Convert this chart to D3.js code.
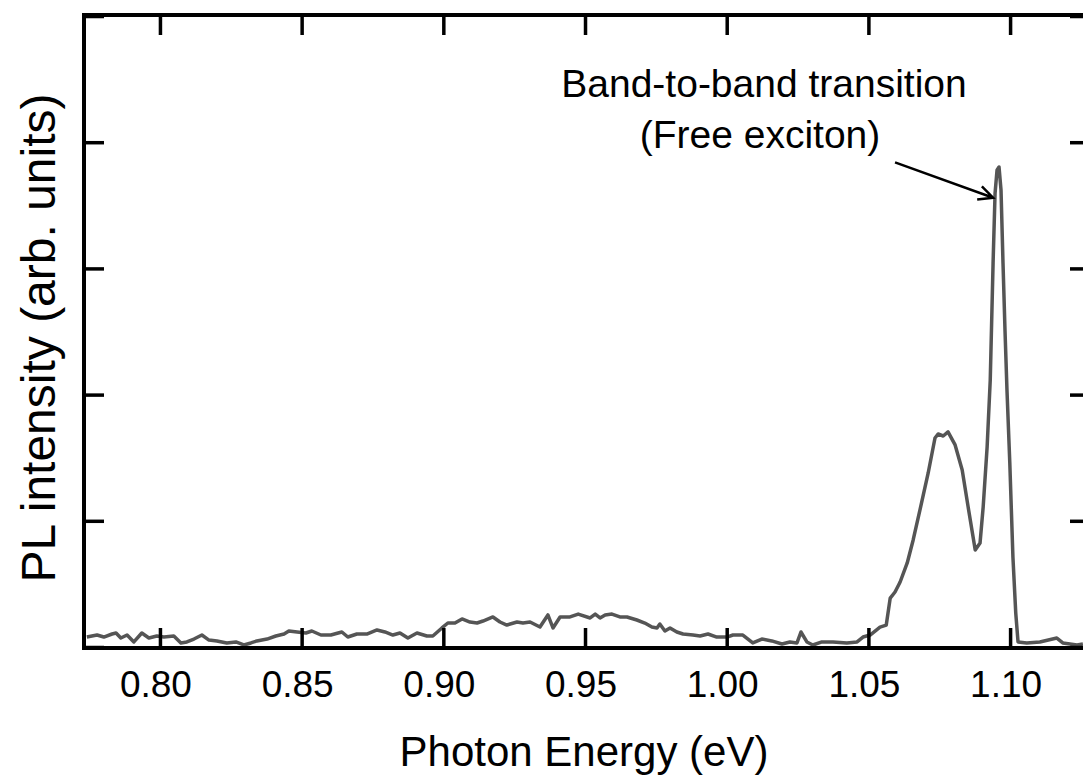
<!DOCTYPE html>
<html>
<head>
<meta charset="utf-8">
<script src="https://cdn.jsdelivr.net/npm/d3@7"></script>
<style>
  html, body { margin: 0; padding: 0; background: white; }
  svg { display: block; font-family: 'Liberation Sans', Arial, sans-serif; }
</style>
</head>
<body>
<div id="chart"></div>
<script>
/* global d3 */

// photon energy (eV)
var energy = [
  0.7742, 0.7778, 0.7802, 0.7831, 0.7845, 0.7862, 0.7884, 0.7908, 0.7936, 0.7961,
  0.7989, 0.8014, 0.8049, 0.8074, 0.8095, 0.8120, 0.8148, 0.8173, 0.8201, 0.8236,
  0.8268, 0.8296, 0.8321, 0.8342, 0.8378, 0.8409, 0.8438, 0.8455, 0.8484, 0.8515,
  0.8536, 0.8568, 0.8603, 0.8642, 0.8663, 0.8695, 0.8730, 0.8766, 0.8794, 0.8822,
  0.8847, 0.8875, 0.8907, 0.8942, 0.8963, 0.8995, 0.9016, 0.9041, 0.9066, 0.9094,
  0.9119, 0.9140, 0.9175, 0.9200, 0.9224, 0.9260, 0.9281, 0.9306, 0.9341, 0.9369,
  0.9387, 0.9412, 0.9447, 0.9476, 0.9518, 0.9536, 0.9553, 0.9571, 0.9595, 0.9623,
  0.9648, 0.9683, 0.9711, 0.9736, 0.9754, 0.9764, 0.9782, 0.9800, 0.9824, 0.9846,
  0.9881, 0.9906, 0.9934, 0.9965, 1.0001, 1.0022, 1.0057, 1.0092, 1.0124, 1.0159,
  1.0195, 1.0223, 1.0248, 1.0262, 1.0283, 1.0304, 1.0336, 1.0375, 1.0424, 1.0460,
  1.0481, 1.0506, 1.0541, 1.0563, 1.0577, 1.0594, 1.0612, 1.0637, 1.0658, 1.0682,
  1.0711, 1.0735, 1.0746, 1.0764, 1.0781, 1.0806, 1.0831, 1.0852, 1.0877, 1.0894,
  1.0905, 1.0919, 1.0930, 1.0940, 1.0947, 1.0954, 1.0961, 1.0968, 1.0975, 1.0982,
  1.0989, 1.0999, 1.1010, 1.1020, 1.1028, 1.1059, 1.1105, 1.1165, 1.1186, 1.1236,
  1.1257
];

// PL intensity (arb. units)
var intensity = [
  0.079, 0.095, 0.079, 0.103, 0.111, 0.071, 0.095, 0.040, 0.111, 0.071,
  0.087, 0.079, 0.087, 0.032, 0.040, 0.063, 0.095, 0.055, 0.048, 0.032,
  0.040, 0.016, 0.032, 0.048, 0.063, 0.087, 0.103, 0.127, 0.119, 0.111,
  0.127, 0.095, 0.095, 0.119, 0.079, 0.103, 0.103, 0.135, 0.119, 0.095,
  0.111, 0.071, 0.111, 0.087, 0.087, 0.151, 0.190, 0.190, 0.222, 0.198,
  0.190, 0.206, 0.238, 0.198, 0.174, 0.198, 0.190, 0.198, 0.158, 0.254,
  0.151, 0.238, 0.238, 0.261, 0.230, 0.261, 0.230, 0.254, 0.261, 0.238,
  0.238, 0.214, 0.190, 0.158, 0.151, 0.182, 0.127, 0.151, 0.119, 0.103,
  0.095, 0.087, 0.103, 0.079, 0.079, 0.095, 0.095, 0.032, 0.063, 0.048,
  0.024, 0.040, 0.032, 0.119, 0.040, 0.016, 0.040, 0.040, 0.032, 0.040,
  0.079, 0.095, 0.158, 0.174, 0.388, 0.436, 0.515, 0.666, 0.848, 1.086,
  1.379, 1.656, 1.688, 1.672, 1.704, 1.601, 1.403, 1.109, 0.769, 0.824,
  1.109, 1.585, 2.116, 3.043, 3.597, 3.780, 3.803, 3.621, 3.043, 2.512,
  2.036, 1.458, 0.713, 0.269, 0.040, 0.032, 0.040, 0.071, 0.032, 0.016,
  0.024
];

var xTicks = [0.80, 0.85, 0.90, 0.95, 1.00, 1.05, 1.10];
var yTicks = [0, 1, 2, 3, 4, 5];

var noteLines = ['Band-to-band transition', '(Free exciton)'];
var noteArrow = [[1.0594, 3.84], [1.0940, 3.56]]; // tail, head in data units

var chart = chart || {};

chart.WIDTH = 1083;
chart.HEIGHT = 778;
chart.LEFT = 84;
chart.RIGHT = 1090;
chart.TOP = 15;
chart.BOTTOM = 648;
chart.TICK = 20;

chart.draw = function() {
  'use strict';

  var svg = d3.select('#chart')
    .append('svg')
    .attr('width', chart.WIDTH)
    .attr('height', chart.HEIGHT)
    .style('background', 'white');

  var x = d3.scaleLinear()
    .domain([0.7732, 1.1282])
    .range([chart.LEFT, chart.RIGHT]);

  var y = d3.scaleLinear()
    .domain([-0.0079, 5.008])
    .range([chart.BOTTOM, chart.TOP]);

  var points = energy.map(function(e, i) { return [e, intensity[i]]; });

  // spectrum
  svg.append('path')
    .datum(points)
    .attr('fill', 'none')
    .attr('stroke', '#555555')
    .attr('stroke-width', 3.5)
    .attr('stroke-linejoin', 'round')
    .attr('d', d3.line()
      .x(function(d) { return x(d[0]); })
      .y(function(d) { return y(d[1]); }));

  // axes: ticks pointing inward on all four sides
  var bottom = svg.append('g')
    .attr('transform', 'translate(0,' + chart.BOTTOM + ')')
    .call(d3.axisTop(x).tickValues(xTicks).tickSize(chart.TICK).tickFormat(''));
  var top = svg.append('g')
    .attr('transform', 'translate(0,' + chart.TOP + ')')
    .call(d3.axisBottom(x).tickValues(xTicks).tickSize(chart.TICK).tickFormat(''));
  var left = svg.append('g')
    .attr('transform', 'translate(' + chart.LEFT + ',0)')
    .call(d3.axisRight(y).tickValues(yTicks).tickSize(chart.TICK).tickFormat(''));
  var right = svg.append('g')
    .attr('transform', 'translate(' + chart.RIGHT + ',0)')
    .call(d3.axisLeft(y).tickValues(yTicks).tickSize(chart.TICK).tickFormat(''));

  [bottom, top, left, right].forEach(function(g) {
    g.select('.domain').remove();
    g.selectAll('.tick line')
      .attr('stroke', '#000')
      .attr('stroke-width', 3.5);
  });

  svg.append('rect')
    .attr('x', chart.LEFT)
    .attr('y', chart.TOP)
    .attr('width', chart.RIGHT - chart.LEFT)
    .attr('height', chart.BOTTOM - chart.TOP)
    .attr('fill', 'none')
    .attr('stroke', '#000')
    .attr('stroke-width', 4);

  // tick labels
  svg.append('g')
    .selectAll('text')
    .data(xTicks)
    .enter()
    .append('text')
    .attr('x', function(d) { return x(d) - 4; })
    .attr('y', 697)
    .attr('text-anchor', 'middle')
    .attr('font-size', '37px')
    .attr('fill', '#000')
    .text(d3.format('.2f'));

  svg.append('text')
    .attr('x', 584)
    .attr('y', 766)
    .attr('text-anchor', 'middle')
    .attr('font-size', '42px')
    .attr('fill', '#000')
    .text('Photon Energy (eV)');

  svg.append('text')
    .attr('transform', 'translate(55,338) rotate(-90)')
    .attr('text-anchor', 'middle')
    .attr('font-size', '48px')
    .attr('fill', '#000')
    .text('PL intensity (arb. units)');

  // annotation
  svg.append('g')
    .selectAll('text')
    .data(noteLines)
    .enter()
    .append('text')
    .attr('x', function(d, i) { return i === 0 ? 764 : 760; })
    .attr('y', function(d, i) { return 97 + i * 51; })
    .attr('text-anchor', 'middle')
    .attr('font-size', '39px')
    .attr('fill', '#000')
    .text(function(d) { return d; });

  var tail = [x(noteArrow[0][0]), y(noteArrow[0][1])];
  var head = [x(noteArrow[1][0]), y(noteArrow[1][1])];
  var ang = Math.atan2(head[1] - tail[1], head[0] - tail[0]);
  var barb = 16;
  var spread = 0.45;

  svg.append('path')
    .attr('fill', 'none')
    .attr('stroke', '#000')
    .attr('stroke-width', 2.5)
    .attr('d',
      'M' + tail[0] + ',' + tail[1] + 'L' + head[0] + ',' + head[1] +
      'M' + (head[0] - barb * Math.cos(ang - spread)) + ',' + (head[1] - barb * Math.sin(ang - spread)) +
      'L' + head[0] + ',' + head[1] +
      'L' + (head[0] - barb * Math.cos(ang + spread)) + ',' + (head[1] - barb * Math.sin(ang + spread)));
};

chart.draw();
</script>
</body>
</html>
